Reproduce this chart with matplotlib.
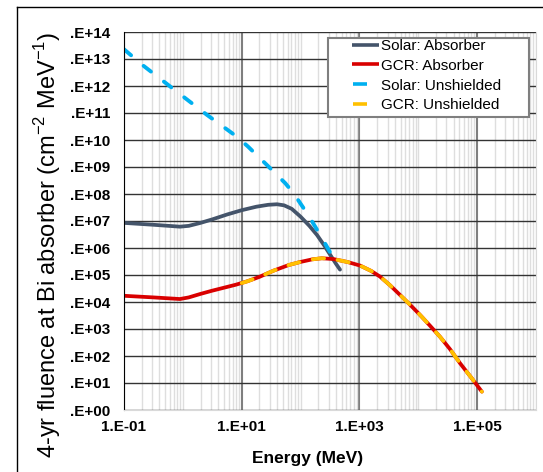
import numpy as np
import matplotlib
matplotlib.use('Agg')
import matplotlib.pyplot as plt
from matplotlib.lines import Line2D
from matplotlib.patches import Rectangle
from matplotlib.ticker import NullFormatter, NullLocator

plt.rcParams['font.family'] = ['Liberation Sans', 'DejaVu Sans']
plt.rcParams['mathtext.fontset'] = 'custom'
plt.rcParams['mathtext.rm'] = 'Liberation Sans'
plt.rcParams['lines.scale_dashes'] = False

# valeurs (log10 de l'energie en MeV et de la fluence)
solar_abs_logE = [-1.0, -0.5, -0.05, 0.1, 0.3, 0.5, 0.75, 1.0, 1.25, 1.45, 1.6, 1.72,
                  1.85, 2.0, 2.15, 2.28, 2.40, 2.50, 2.60, 2.67]
solar_abs_logF = [6.93, 6.86, 6.79, 6.82, 6.93, 7.06, 7.24, 7.40, 7.53, 7.60, 7.62, 7.58,
                  7.45, 7.16, 6.82, 6.48, 6.10, 5.76, 5.42, 5.20]

gcr_abs_logE = [-1.0, -0.5, -0.05, 0.1, 0.3, 0.5, 0.7, 0.9, 1.1, 1.3, 1.54, 1.8, 1.99,
                2.2, 2.36, 2.56, 2.8, 3.01, 3.2, 3.35, 3.52, 3.69, 3.86, 4.03, 4.2,
                4.37, 4.54, 4.71, 4.9, 5.08]
gcr_abs_logF = [4.23, 4.17, 4.11, 4.17, 4.30, 4.42, 4.53, 4.64, 4.77, 4.93, 5.16, 5.37,
                5.48, 5.58, 5.62, 5.59, 5.48, 5.35, 5.15, 4.94, 4.62, 4.26, 3.90, 3.52,
                3.12, 2.71, 2.25, 1.73, 1.20, 0.68]

solar_uns_logE = [-1.0, -0.67, 0.07, 0.41, 0.92, 1.11, 1.43, 1.74, 1.88, 2.13, 2.35,
                  2.56, 2.64]
solar_uns_logF = [13.36, 12.75, 11.5, 10.93, 10.12, 9.75, 9.07, 8.4, 8.03, 7.22, 6.42,
                  5.62, 5.35]

gcr_uns_logE = [1.0, 1.1, 1.3, 1.54, 1.8, 1.99, 2.2, 2.36, 2.56, 2.8, 3.01, 3.2, 3.35,
                3.52, 3.69, 3.86, 4.03, 4.2, 4.37, 4.54, 4.71, 4.9, 5.08]
gcr_uns_logF = [4.70, 4.77, 4.93, 5.16, 5.37, 5.48, 5.58, 5.62, 5.59, 5.48, 5.35, 5.15,
                4.94, 4.62, 4.26, 3.90, 3.52, 3.12, 2.71, 2.25, 1.73, 1.20, 0.68]

labels = ['Solar: Absorber', 'GCR: Absorber', 'Solar: Unshielded', 'GCR: Unshielded']
colors = ['#44546A', '#D90000', '#00B0F0', '#FFC000']

x_ticks = [1e-1, 1e1, 1e3, 1e5]
x_ticklabels = ['1.E-01', '1.E+01', '1.E+03', '1.E+05']
y_exps = list(range(0, 15))
y_ticklabels = ['.E+%02d' % k for k in y_exps]

W, H = 543, 472
fig = plt.figure(figsize=(W / 100, H / 100), dpi=100)


def fx(px):
    return px / W


def fy(py):
    return 1 - py / H


ax = fig.add_axes([fx(124), fy(410), fx(536) - fx(124), fy(32) - fy(410)])
ax.set_xscale('log')
ax.set_yscale('log')
ax.set_xlim(1e-1, 1e6)
ax.set_ylim(1e0, 1e14)

# lignes de grille
ax.set_xticks(x_ticks)
ax.set_xticklabels(x_ticklabels)
minor_x = [m * 10.0 ** k for k in range(-1, 6) for m in range(2, 10)] + [1e0, 1e2, 1e4, 1e6]
ax.set_xticks(minor_x, minor=True)
ax.xaxis.set_minor_formatter(NullFormatter())
ax.set_yticks([10.0 ** k for k in y_exps])
ax.set_yticklabels(y_ticklabels)
ax.yaxis.set_minor_locator(NullLocator())

ax.set_axisbelow(True)
ax.grid(which='minor', axis='x', color='#dedede', lw=1)
ax.grid(which='major', axis='x', color='#7f7f7f', lw=1.5)
ax.grid(which='major', axis='y', color='#333333', lw=1)
ax.tick_params(which='both', length=0)
ax.tick_params(axis='y', pad=10, labelsize=11)
ax.tick_params(axis='x', pad=7, labelsize=11)
for lbl in ax.get_xticklabels() + ax.get_yticklabels():
    lbl.set_fontweight('bold')

ax.spines['top'].set_visible(False)
ax.spines['right'].set_color('#d9d9d9')
ax.spines['bottom'].set_color('#d9d9d9')
ax.spines['left'].set_color('black')

# courbes
ax.plot(10 ** np.array(solar_abs_logE), 10 ** np.array(solar_abs_logF),
        color=colors[0], lw=2.7, solid_capstyle='round', solid_joinstyle='round')
ax.plot(10 ** np.array(gcr_abs_logE), 10 ** np.array(gcr_abs_logF),
        color=colors[1], lw=2.7, solid_capstyle='round', solid_joinstyle='round')
ax.plot(10 ** np.array(solar_uns_logE), 10 ** np.array(solar_uns_logF),
        color=colors[2], lw=2.8, linestyle=(0, (6.7, 11.8)), dash_capstyle='round')
ax.plot(10 ** np.array(gcr_uns_logE), 10 ** np.array(gcr_uns_logF),
        color=colors[3], lw=2.7, linestyle=(0, (8.3, 9.7)), dash_capstyle='round')

# legende
L_px = 47
L = L_px * 0.72


def seg(start_px, len_px):
    s = start_px * 0.72
    d = len_px * 0.72
    return (L - s, (d, L - d))


handles = [
    Line2D([], [], color=colors[0], lw=2.6, linestyle=seg(20, 27), dash_capstyle='butt'),
    Line2D([], [], color=colors[1], lw=2.6, linestyle=seg(20, 27), dash_capstyle='butt'),
    Line2D([], [], color=colors[2], lw=2.6, linestyle=seg(21, 14), dash_capstyle='butt'),
    Line2D([], [], color=colors[3], lw=2.6, linestyle=seg(21, 14), dash_capstyle='butt'),
]

fig.add_artist(Rectangle((fx(328), fy(117)), fx(529) - fx(328), fy(38) - fy(117),
                         transform=fig.transFigure, facecolor='white',
                         edgecolor='#7f7f7f', lw=1.5))
fig.legend(handles, labels, loc='upper left', bbox_to_anchor=(fx(332), fy(39)),
           bbox_transform=fig.transFigure, frameon=False, borderpad=0,
           borderaxespad=0, handlelength=L / 11, handletextpad=0.13,
           labelspacing=0.38, fontsize=11)

# titres des axes
fig.text(fx(48), fy(245), r'4-yr fluence at Bi absorber (cm$^{\mathregular{-2}}$ MeV$^{\mathregular{-1}}$)',
         rotation=90, ha='center', va='center', fontsize=17)
fig.text(fx(308), fy(459), 'Energy (MeV)', ha='center', va='center',
         fontsize=12.5, fontweight='bold')

# cadre exterieur
fig.add_artist(Line2D([fx(17), 1], [fy(7), fy(7)], color='black', lw=1,
                      transform=fig.transFigure))
fig.add_artist(Line2D([fx(17), fx(17)], [fy(7), 0], color='black', lw=1,
                      transform=fig.transFigure))

fig.savefig('out.png', dpi=100)
